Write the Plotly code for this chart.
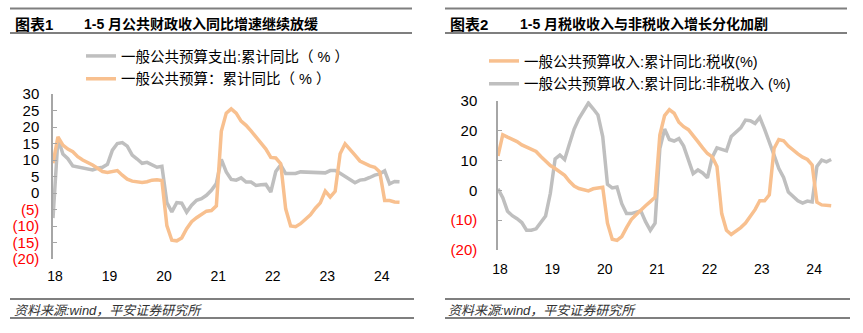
import plotly.graph_objects as go

# Month categories: Dec 2017, then Feb-Dec for 2018-2023 (Jan is merged into 1-2月), then Feb-May 2024
months = ["2017-12"]
for yr in range(2018, 2024):
    months += [f"{yr}-{m:02d}" for m in range(2, 13)]
months += [f"2024-{m:02d}" for m in range(2, 6)]

year_ticks = ["2017-12", "2018-12", "2019-12", "2020-12", "2021-12", "2022-12", "2023-12"]
year_labels = ["18", "19", "20", "21", "22", "23", "24"]

# 图表1: 一般公共预算支出 / 收入 累计同比 (%)
expenditure_yoy = [
    -7.6,
    16.5, 11.8, 10.4, 8.2, 7.9, 7.5, 7.1, 7.0, 7.5, 7.8, 8.7,
    13.0, 15.0, 15.3, 14.2, 11.5, 10.3, 9.0, 9.3, 8.6, 7.8, 8.1,
    -2.9, -5.7, -2.9, -3.1, -5.8, -3.7, -2.2, -1.7, -0.7, 0.8, 2.9,
    10.2, 6.4, 4.1, 3.9, 4.6, 3.3, 3.3, 2.3, 2.5, 2.6, 0.3,
    6.5, 8.5, 5.9, 5.9, 5.9, 6.4, 6.3, 6.4, 6.2, 6.1, 6.1,
    6.8, 6.8, 6.0, 5.0, 3.9, 3.1, 3.9, 4.1, 4.7, 5.4, 5.8,
    6.7, 2.8, 3.5, 3.4,
]
revenue_yoy = [
    9.0,
    17.0, 14.5, 13.3, 12.5, 11.0, 10.0, 9.3, 8.5, 7.5, 6.5, 6.2,
    6.6, 6.8, 5.4, 4.2, 3.6, 3.3, 3.2, 3.4, 3.9, 4.0, 3.8,
    -9.9, -14.3, -14.5, -13.6, -10.8, -8.7, -7.5, -6.4, -5.5, -5.3, -3.9,
    18.7, 24.2, 25.5, 24.2, 21.8, 20.5, 18.8, 17.0, 15.3, 13.3, 10.8,
    10.6, 8.9, -4.8, -10.0, -10.2, -9.3, -8.0, -6.6, -4.6, -3.0, 0.6,
    -1.2, 0.5, 11.9, 14.9, 13.3, 11.5, 9.7, 8.9, 8.2, 7.8, 6.4,
    -2.3, -2.3, -2.7, -2.8,
]

# 图表2: 税收 / 非税收入 累计同比 (%)
tax_yoy = [
    11.5,
    18.6, 17.8, 17.2, 16.3, 15.2, 14.5, 14.0, 13.0, 11.3, 9.7, 8.3,
    7.3, 6.3, 5.0, 3.0, 1.4, 0.6, 0.1, -0.2, 0.5, 0.8, 1.0,
    -11.0, -16.4, -16.8, -15.5, -12.5, -9.8, -8.2, -6.5, -5.2, -3.8, -2.3,
    18.5, 25.0, 27.0, 25.8, 22.8, 21.3, 20.3, 18.5, 16.3, 14.2, 12.3,
    11.2, 8.0, -7.8, -13.4, -14.8, -13.8, -12.5, -11.0, -8.8, -6.5, -3.5,
    -3.5, -1.5, 14.0, 17.0, 16.6, 14.8, 13.4, 12.2, 11.1, 10.3, 8.5,
    -4.0, -4.9, -5.0, -5.2,
]
nontax_yoy = [
    0.5,
    -2.5, -7.0, -8.5, -9.5, -10.8, -13.4, -13.4, -12.9, -10.8, -8.6, -1.0,
    10.5, 11.8, 10.3, 15.5, 20.5, 24.0, 26.5, 29.2, 27.3, 25.2, 18.0,
    2.0, 0.8, 1.1, -4.5, -7.8, -7.8, -7.2, -6.9, -10.5, -13.4, -11.0,
    14.0, 20.5, 17.0, 16.5, 17.3, 14.8, 10.3, 5.6, 6.8, 5.8, 4.2,
    11.0, 14.2, 13.8, 13.2, 18.0, 19.6, 20.9, 23.5, 23.3, 22.4, 24.4,
    20.5, 16.5, 11.8, 7.3, 4.3, -0.6, -2.2, -3.5, -4.3, -3.6, -3.9,
    8.0, 10.1, 9.5, 10.3,
]

left_yticks = [30, 25, 20, 15, 10, 5, 0, -5, -10, -15, -20]
right_yticks = [30, 20, 10, 0, -10, -20]

W, H = 863, 333
GRAY = "#BFBFBF"
ORANGE = "#F8C08F"
AXIS = "#A6A6A6"
RULE = "#7F7F7F"
FONT = "Liberation Sans, Arial, Noto Sans CJK SC, sans-serif"


def px_x(v):
    return v / W


def px_y(v):
    return 1 - v / H


def tick_text(vals):
    out = []
    for v in vals:
        if v < 0:
            out.append(f"<span style='color:#FF0000'>({abs(v)})</span>")
        else:
            out.append(str(v))
    return out


fig = go.Figure()

# Left panel traces
fig.add_trace(go.Scatter(x=months, y=expenditure_yoy, mode="lines",
                         name="一般公共预算支出:累计同比（ % ）",
                         line=dict(color=GRAY, width=3.5), legendgroup="a",
                         xaxis="x", yaxis="y", legend="legend", legendrank=1))
fig.add_trace(go.Scatter(x=months, y=revenue_yoy, mode="lines",
                         name="一般公共预算：累计同比（ % ）",
                         line=dict(color=ORANGE, width=3.5), legendgroup="b",
                         xaxis="x", yaxis="y", legend="legend", legendrank=2))

# Right panel traces
fig.add_trace(go.Scatter(x=months, y=nontax_yoy, mode="lines",
                         name="一般公共预算收入:累计同比:非税收入 (%)",
                         line=dict(color=GRAY, width=3.5), legendgroup="d",
                         xaxis="x2", yaxis="y2", legend="legend2", legendrank=2))
fig.add_trace(go.Scatter(x=months, y=tax_yoy, mode="lines",
                         name="一般公共预算收入:累计同比:税收(%)",
                         line=dict(color=ORANGE, width=3.5), legendgroup="c",
                         xaxis="x2", yaxis="y2", legend="legend2", legendrank=1))

# Panel geometry (pixels)
L_x0, L_x1, L_ytop, L_ybot = 53, 402, 94, 259
R_x0, R_x1, R_ytop, R_ybot = 498, 835, 100.7, 250
YMIN, YMAX = -20, 30


def zero_pos(ytop, ybot):
    bottom = px_y(ybot)
    top = px_y(ytop)
    return bottom + (0 - YMIN) / (YMAX - YMIN) * (top - bottom)


common_x = dict(type="category", showgrid=False, zeroline=False, showline=False,
                ticks="", tickvals=year_ticks, ticktext=year_labels,
                tickfont=dict(family=FONT, size=14, color="#000000"),
                ticklabelshift=2)
zero_axis = dict(type="category", showgrid=False, zeroline=False, showline=True,
                 linecolor=AXIS, linewidth=1.2, ticks="inside", ticklen=5,
                 tickcolor=AXIS, tickwidth=1.2, tickvals=year_ticks,
                 showticklabels=False, anchor="free")
common_y = dict(range=[YMIN, YMAX], showgrid=False, zeroline=False, showline=True,
                linecolor=AXIS, linewidth=1.5, ticks="inside", ticklen=4,
                tickcolor=AXIS, tickwidth=1.2,
                tickfont=dict(family=FONT, size=15, color="#000000"))

fig.update_layout(
    width=W, height=H, autosize=False,
    margin=dict(l=0, r=0, t=0, b=0, autoexpand=False),
    paper_bgcolor="#FFFFFF", plot_bgcolor="#FFFFFF",
    font=dict(family=FONT, color="#000000"),
    xaxis=dict(common_x, domain=[px_x(L_x0), px_x(L_x1)], range=[0, 70.5], anchor="y",
               ticklabelstandoff=7),
    xaxis3=dict(zero_axis, domain=[px_x(L_x0), px_x(L_x1)], range=[0, 70.5],
                overlaying="x", position=zero_pos(L_ytop, L_ybot)),
    yaxis=dict(common_y, domain=[px_y(L_ybot), px_y(L_ytop)], anchor="x",
               tickvals=left_yticks, ticktext=tick_text(left_yticks), ticklabelstandoff=9),
    xaxis2=dict(common_x, domain=[px_x(R_x0), px_x(R_x1)], range=[0, 70.8], anchor="y2",
                ticklabelstandoff=9),
    xaxis4=dict(zero_axis, domain=[px_x(R_x0), px_x(R_x1)], range=[0, 70.8],
                overlaying="x2", position=zero_pos(R_ytop, R_ybot)),
    yaxis2=dict(common_y, domain=[px_y(R_ybot), px_y(R_ytop)], anchor="x2",
                tickvals=right_yticks, ticktext=tick_text(right_yticks), ticklabelstandoff=16),
    legend=dict(x=px_x(81), y=px_y(40), xanchor="left", yanchor="top",
                bgcolor="rgba(0,0,0,0)", tracegroupgap=1,
                font=dict(family=FONT, size=14.5, color="#000000")),
    legend2=dict(x=px_x(484), y=px_y(45), xanchor="left", yanchor="top",
                 bgcolor="rgba(0,0,0,0)", tracegroupgap=1,
                 font=dict(family=FONT, size=14.5, color="#000000")),
)

# Headers, rules and source notes
shapes = []
for (x0, x1) in [(10, 412), (445, 847)]:
    for yy in (8.5, 33):
        shapes.append(dict(type="line", xref="paper", yref="paper",
                           x0=px_x(x0), x1=px_x(x1), y0=px_y(yy), y1=px_y(yy),
                           line=dict(color=RULE, width=2)))
for (x0, x1) in [(10, 414), (445, 850)]:
    for yy in (299, 318):
        shapes.append(dict(type="line", xref="paper", yref="paper",
                           x0=px_x(x0), x1=px_x(x1), y0=px_y(yy), y1=px_y(yy),
                           line=dict(color=RULE, width=2)))

annotations = []
for (tx, label, sx, sub) in [(13, "图表1", 82, "1-5 月公共财政收入同比增速继续放缓"),
                             (448, "图表2", 518, "1-5 月税收收入与非税收入增长分化加剧")]:
    annotations.append(dict(xref="paper", yref="paper", x=px_x(tx), y=px_y(24.5),
                            xanchor="left", yanchor="middle", showarrow=False,
                            text=f"<b>{label}</b>",
                            font=dict(family=FONT, size=15, color="#000000")))
    annotations.append(dict(xref="paper", yref="paper", x=px_x(sx), y=px_y(24.5),
                            xanchor="left", yanchor="middle", showarrow=False,
                            text=f"<b>{sub}</b>",
                            font=dict(family=FONT, size=14, color="#000000")))
for sx in (12, 446):
    annotations.append(dict(xref="paper", yref="paper", x=px_x(sx), y=px_y(310.5),
                            xanchor="left", yanchor="middle", showarrow=False,
                            text="<i>资料来源:wind，平安证券研究所</i>",
                            font=dict(family=FONT, size=13, color="#333333")))

fig.update_layout(shapes=shapes, annotations=annotations)

fig.write_html("out.html")
